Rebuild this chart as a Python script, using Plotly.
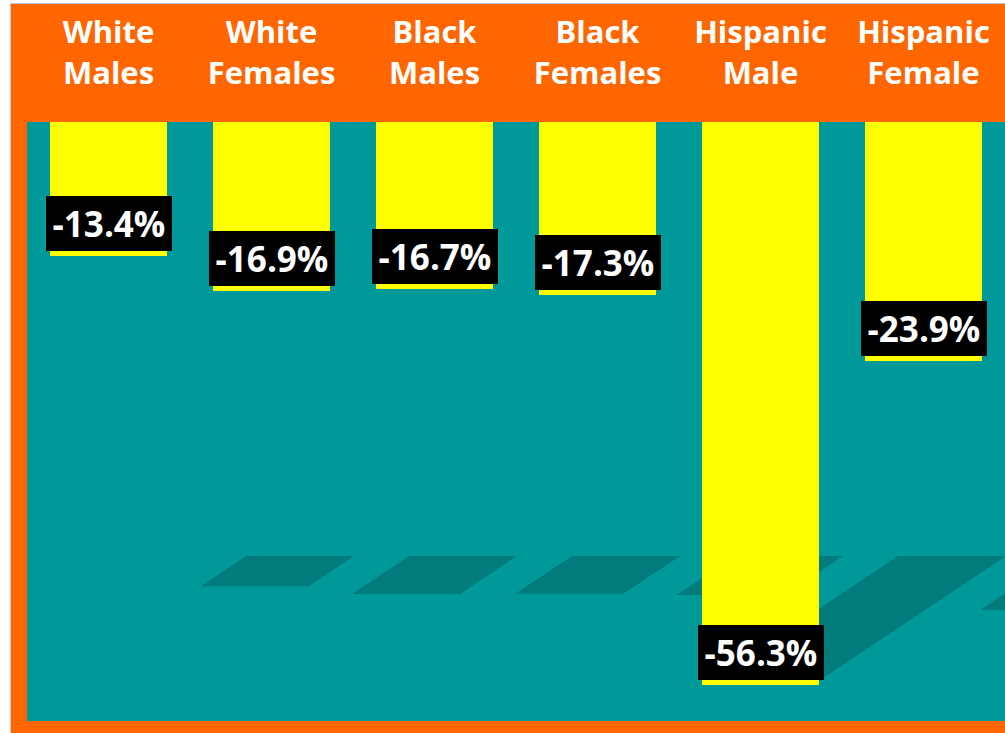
import plotly.graph_objects as go

categories = ["White<br>Males", "White<br>Females", "Black<br>Males", "Black<br>Females",
              "Hispanic<br>Male", "Hispanic<br>Female"]
values = [-13.4, -16.9, -16.7, -17.3, -56.3, -23.9]
value_labels = ["-13.4%", "-16.9%", "-16.7%", "-17.3%", "-56.3%", "-23.9%"]

ORANGE = "#FF6600"
TEAL = "#009999"
YELLOW = "#FFFF00"
SHADOW = "#017B7B"
FONT = "Open Sans"

W, H = 1005, 733
ML, MR, MT, MB = 27, 0, 122, 12
PW, PH = W - ML - MR, H - MT - MB
YMIN = -59.9
BAR_W = 0.717

xs = list(range(len(categories)))

fig = go.Figure()
fig.add_trace(go.Bar(x=xs, y=values, width=BAR_W, marker=dict(color=YELLOW, line=dict(width=0)),
                     hoverinfo="skip"))

# value labels
for x, v, t in zip(xs, values, value_labels):
    fig.add_annotation(x=x, y=v, xref="x", yref="y", text=t, showarrow=False,
                       yanchor="bottom", yshift=5, bgcolor="black", width=122, height=51,
                       borderpad=2, borderwidth=0,
                       font=dict(family=FONT, size=35, color="white", weight="bold"))

# decorative cast shadows (derived from each bar's value)
px_per_x = PW / 6.0
px_per_y = PH / (-YMIN)
floor_y = -43.4
for x, v in zip(xs, values):
    h = 0.225 * abs(v)
    left_top = x - BAR_W / 2 + 196 / px_per_x
    sw = 108 / px_per_x
    dx = 1.5 * h * px_per_y / px_per_x
    yt, yb = floor_y, floor_y - h
    path = (f"M {left_top} {yt} L {left_top + sw} {yt} L {left_top + sw - dx} {yb} "
            f"L {left_top - dx} {yb} Z")
    fig.add_shape(type="path", path=path, xref="x", yref="y", fillcolor=SHADOW,
                  line=dict(width=0), layer="below")

# page frame: white strip on left and top, thin gray edge
def px2paper_x(p):
    return (p - ML) / PW

def py2paper_y(p):
    return (H - MB - p) / PH

fig.add_shape(type="rect", xref="paper", yref="paper", x0=px2paper_x(-2), x1=px2paper_x(10.5),
              y0=py2paper_y(740), y1=py2paper_y(-5), fillcolor="white", line=dict(width=0))
fig.add_shape(type="rect", xref="paper", yref="paper", x0=px2paper_x(-2), x1=px2paper_x(1010),
              y0=py2paper_y(3.5), y1=py2paper_y(-5), fillcolor="white", line=dict(width=0))
fig.add_shape(type="line", xref="paper", yref="paper", x0=px2paper_x(10.5), x1=px2paper_x(10.5),
              y0=py2paper_y(740), y1=py2paper_y(3.5), line=dict(color="#C8C8C8", width=1))
fig.add_shape(type="line", xref="paper", yref="paper", x0=px2paper_x(10.5), x1=px2paper_x(1010),
              y0=py2paper_y(3.5), y1=py2paper_y(3.5), line=dict(color="#C8C8C8", width=1))

fig.update_layout(
    width=W, height=H,
    margin=dict(l=ML, r=MR, t=MT, b=MB, pad=0),
    paper_bgcolor=ORANGE, plot_bgcolor=TEAL,
    showlegend=False, bargap=0,
    xaxis=dict(side="top", tickmode="array", tickvals=xs, ticktext=categories,
               range=[-0.5, 5.5], showgrid=False, zeroline=False, showline=False,
               ticks="outside", ticklen=25, tickcolor=ORANGE,
               tickfont=dict(family=FONT, size=31, color="white", weight="bold"),
               fixedrange=True),
    yaxis=dict(range=[YMIN, 0], visible=False, fixedrange=True),
)

fig.write_html("out.html", config={"displayModeBar": False},
               post_script="document.body.style.margin='0';document.body.style.overflow='hidden';")
